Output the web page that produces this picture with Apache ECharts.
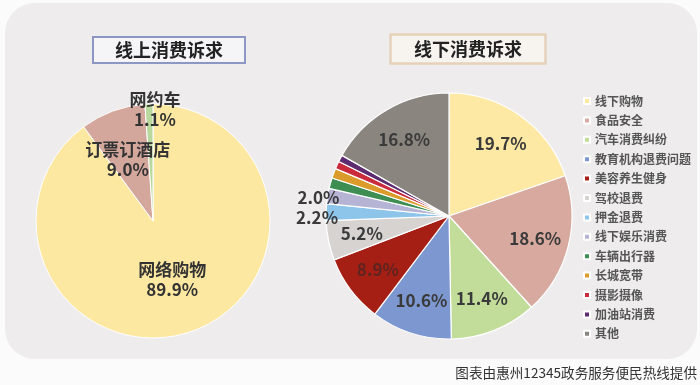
<!DOCTYPE html>
<html><head><meta charset="utf-8">
<script src="https://cdn.jsdelivr.net/npm/echarts@6/dist/echarts.min.js"></script>
<style>html,body{margin:0;padding:0;background:#fbfbfb}#c{width:700px;height:385px}</style>
</head><body><div id="c"></div>
<script>
// ---- data ----
var onlineNames = ['网络购物', '订票订酒店', '网约车'];
var onlineValues = [89.9, 9.0, 1.1];
var onlineColors = ['#fde8a2', '#d4a79d', '#b8d89d'];

var offlineNames = ['线下购物', '食品安全', '汽车消费纠纷', '教育机构退费问题', '美容养生健身', '驾校退费', '押金退费', '线下娱乐消费', '车辆出行器', '长城宽带', '摄影摄像', '加油站消费', '其他'];
var offlineValues = [19.7, 18.6, 11.4, 10.6, 8.9, 5.2, 2.2, 2.0, 1.4, 1.3, 1.0, 0.9, 16.8];
var offlineColors = ['#fde9a4', '#d8a99f', '#c2dc9a', '#7d98d0', '#a61f15', '#d6d3d1', '#8dc4ea', '#b5b4d4', '#3e8d52', '#da9b2a', '#c92a3c', '#5c2b70', '#8b8580'];
var offlineInsideLabels = ['线下购物', '食品安全', '汽车消费纠纷', '教育机构退费问题', '美容养生健身', '驾校退费', '其他'];
var offlineOutsideLabels = ['押金退费', '线下娱乐消费'];

var titleLeft = '线上消费诉求';
var titleRight = '线下消费诉求';
var footer = '图表由惠州12345政务服务便民热线提供';

var FONT = '"Noto Sans CJK SC", "Noto Sans", sans-serif';

function pct(v) { return Number(v).toFixed(1) + '%'; }

var chart = echarts.init(document.getElementById('c'), null, {renderer: 'canvas'});

var onlineData = onlineNames.map(function (n, i) {
  return {name: n, value: onlineValues[i], itemStyle: {color: onlineColors[i]}};
});

var offlineDataA = offlineNames.map(function (n, i) {
  var outside = offlineOutsideLabels.indexOf(n) >= 0;
  return {
    name: n, value: offlineValues[i], itemStyle: {color: offlineColors[i]},
    label: {show: outside}
  };
});
var offlineDataB = offlineNames.map(function (n, i) {
  var show = offlineInsideLabels.indexOf(n) >= 0;
  return {
    name: n, value: offlineValues[i],
    label: {show: show, color: n === '美容养生健身' ? '#5e2420' : '#3a3a3a'}
  };
});

var option = {
  backgroundColor: '#fbfbfb',
  animation: false,
  graphic: [
    {type: 'rect', z: -10, shape: {x: 5, y: 3, width: 692, height: 356, r: 30}, style: {fill: '#eeeced'}},
    {type: 'text', style: {text: footer, x: 697, y: 373, align: 'right', verticalAlign: 'middle', fill: '#333', font: '13.6px ' + FONT}}
  ],
  title: [
    {text: titleLeft, left: 93, top: 37, padding: [4, 22, 4, 22], borderColor: '#8d97c4', borderWidth: 2, backgroundColor: '#f5f5f7',
     textStyle: {fontSize: 18, fontWeight: 'bold', color: '#222', fontFamily: FONT}},
    {text: titleRight, left: 390, top: 34, padding: [6, 24, 6, 24], borderColor: '#e6d2bb', borderWidth: 2.5, backgroundColor: '#f7f3ef',
     textStyle: {fontSize: 18, fontWeight: 'bold', color: '#222', fontFamily: FONT}}
  ],
  legend: {
    orient: 'vertical', left: 578, top: 89, itemWidth: 6, itemHeight: 6, itemGap: 5.4, icon: 'rect',
    data: offlineNames,
    textStyle: {fontSize: 12, lineHeight: 14, color: '#555', fontFamily: FONT, fontWeight: 'bold'}
  },
  series: [
    {
      type: 'pie', center: [153, 221], radius: [0, 117], startAngle: 90, clockwise: true,
      itemStyle: {borderColor: '#fff', borderWidth: 1},
      label: {show: true, position: 'inside', formatter: function (p) { return p.name + '\n' + pct(p.value); },
              fontSize: 17, lineHeight: 20, fontWeight: 'bold', color: '#333', fontFamily: FONT},
      labelLine: {show: false},
      labelLayout: function (p) { if (p.dataIndex === 2) { return {dy: -50, dx: 4}; } if (p.dataIndex === 1) { return {dy: -4, dx: -4}; } },
      data: onlineData
    },
    {
      type: 'pie', center: [449, 216], radius: [0, 123], startAngle: 90, clockwise: true,
      avoidLabelOverlap: true,
      itemStyle: {borderColor: '#fff', borderWidth: 1.2},
      label: {position: 'outside', formatter: function (p) { return pct(p.value); }, fontSize: 17, lineHeight: 18,
              fontWeight: 'bold', color: '#3a3a3a', fontFamily: FONT, distanceToLabelLine: 3},
      labelLine: {show: false, length: -12, length2: 0},
      labelLayout: {hideOverlap: false},
      data: offlineDataA
    },
    {
      type: 'pie', center: [449, 216], radius: [0, 172], startAngle: 90, clockwise: true, silent: true,
      legendHoverLink: false,
      itemStyle: {color: 'rgba(0,0,0,0)', borderWidth: 0},
      label: {position: 'inside', formatter: function (p) { return pct(p.value); }, fontSize: 17, fontWeight: 'bold', fontFamily: FONT},
      labelLine: {show: false},
      data: offlineDataB
    }
  ]
};
chart.setOption(option);
</script></body></html>
